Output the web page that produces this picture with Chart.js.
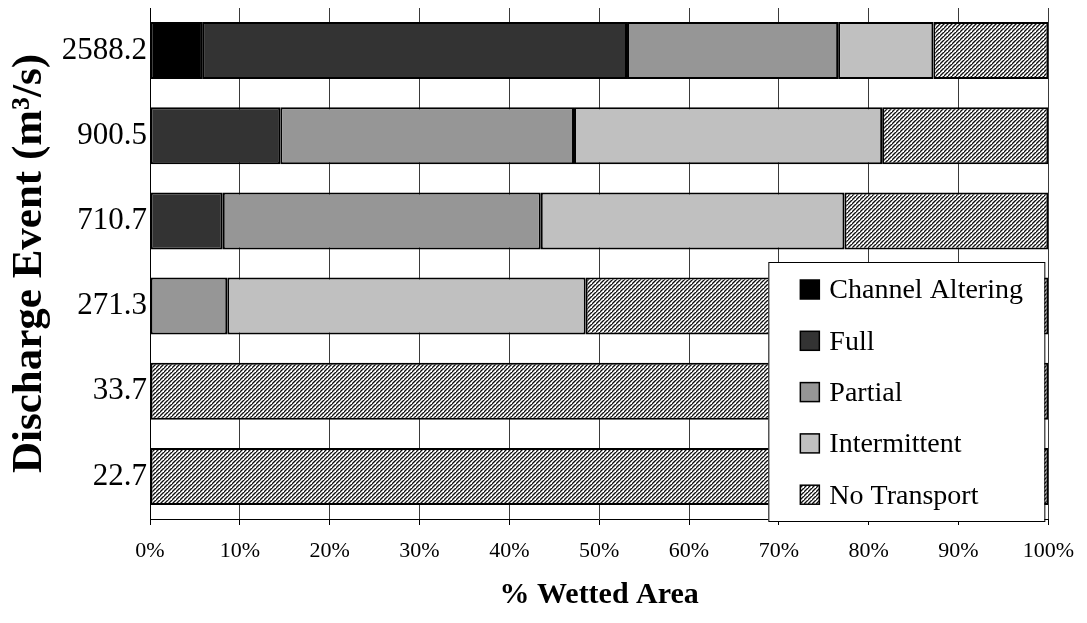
<!DOCTYPE html>
<html>
<head>
<meta charset="utf-8">
<script src="https://cdn.jsdelivr.net/npm/chart.js@4/dist/chart.umd.min.js"></script>
<style>
  html, body { margin: 0; padding: 0; background: #fff; }
  #wrap { width: 1087px; height: 623px; position: relative; }
</style>
</head>
<body>
<div id="wrap"><canvas id="c" width="1087" height="623"></canvas></div>
<script>
// ---- Data ----
const categories = ['2588.2', '900.5', '710.7', '271.3', '33.7', '22.7'];
const seriesNames = ['Channel Altering', 'Full', 'Partial', 'Intermittent', 'No Transport'];
const channelAltering = [5.8, null, null, null, null, null];
const full = [47.3, 14.5, 8.1, null, null, null];
const partial = [23.5, 32.7, 35.4, 8.6, null, null];
const intermittent = [10.6, 34.3, 33.8, 39.9, null, null];
const noTransport = [12.8, 18.5, 22.7, 51.5, 100, 100];
const xTickLabels = ['0%', '10%', '20%', '30%', '40%', '50%', '60%', '70%', '80%', '90%', '100%'];

function hatch() {
  const s = 4;
  const c = document.createElement('canvas');
  c.width = s; c.height = s;
  const g = c.getContext('2d');
  g.fillStyle = '#fff';
  g.fillRect(0, 0, s, s);
  g.strokeStyle = '#111';
  g.lineWidth = 1.35;
  g.beginPath();
  g.moveTo(-1, s + 1); g.lineTo(s + 1, -1);
  g.moveTo(-s - 1, s + 1); g.lineTo(1, -1);
  g.moveTo(s - 1, 2 * s + 1); g.lineTo(2 * s + 1, s - 1);
  g.stroke();
  return g.createPattern(c, 'repeat');
}
const hatchPattern = hatch();
const fills = ['#000000', '#333333', '#969696', '#c0c0c0', hatchPattern];
const seriesValues = [channelAltering, full, partial, intermittent, noTransport];

const serif = '"Liberation Serif", "Times New Roman", serif';

const boxLegend = {
  id: 'boxLegend',
  afterDraw(chart) {
    const ctx = chart.ctx;
    const a = chart.chartArea;
    const right = a.right - 4;
    const bottom = a.bottom + 2;
    const w = 276, h = 259;
    const left = right - w, top = bottom - h;
    ctx.save();
    ctx.fillStyle = '#fff';
    ctx.fillRect(left, top, w, h);
    ctx.strokeStyle = '#000';
    ctx.lineWidth = 1;
    ctx.strokeRect(left + 0.5, top + 0.5, w, h);
    ctx.font = '28px ' + serif;
    ctx.textBaseline = 'middle';
    ctx.textAlign = 'left';
    chart.data.datasets.forEach((ds, i) => {
      const cy = top + 28 + i * 51.3;
      const mx = left + 32;
      ctx.fillStyle = ds.backgroundColor;
      ctx.fillRect(mx, cy - 10, 19, 19);
      ctx.strokeStyle = '#000';
      ctx.lineWidth = 1.5;
      ctx.strokeRect(mx, cy - 10, 19, 19);
      ctx.fillStyle = '#000';
      ctx.fillText(ds.label, left + 61, cy + 1);
    });
    ctx.restore();
  }
};

new Chart(document.getElementById('c'), {
  type: 'bar',
  data: {
    labels: categories,
    datasets: seriesNames.map((name, i) => ({
      label: name,
      data: seriesValues[i],
      backgroundColor: fills[i],
      borderColor: '#000',
      borderWidth: 2,
      borderSkipped: false,
      barPercentage: 0.67,
      categoryPercentage: 1
    }))
  },
  options: {
    indexAxis: 'y',
    responsive: false,
    animation: false,
    devicePixelRatio: 1,
    layout: { padding: { top: 8, right: 37, left: 0, bottom: 0 } },
    plugins: { legend: { display: false }, tooltip: { enabled: false } },
    scales: {
      x: {
        stacked: true,
        min: 0,
        max: 100,
        ticks: {
          stepSize: 10,
          color: '#000',
          font: { family: serif, size: 22 },
          padding: 13,
          maxRotation: 0,
          callback: (v, i) => xTickLabels[i]
        },
        grid: { color: '#3a3a3a', lineWidth: 1, drawTicks: true, tickLength: 6, tickColor: '#000' },
        border: { display: true, color: '#000', width: 1 },
        title: {
          display: true,
          text: '% Wetted Area',
          color: '#000',
          font: { family: serif, size: 30, weight: 'bold' },
          padding: { top: 0, bottom: 10 }
        },
        afterFit(scale) { scale.height = 104; }
      },
      y: {
        stacked: true,
        ticks: {
          color: '#000',
          font: { family: serif, size: 31 },
          padding: 3
        },
        grid: { display: false, drawTicks: false },
        border: { display: true, color: '#000', width: 1 },
        title: {
          display: true,
          text: 'Discharge Event (m³/s)',
          color: '#000',
          font: { family: serif, size: 43, weight: 'bold' },
          padding: { top: 4, bottom: 0 }
        },
        afterFit(scale) {
          scale.width = 150;
          scale.paddingTop = 0;
          scale.paddingBottom = 0;
        }
      }
    }
  },
  plugins: [boxLegend]
});
</script>
</body>
</html>
